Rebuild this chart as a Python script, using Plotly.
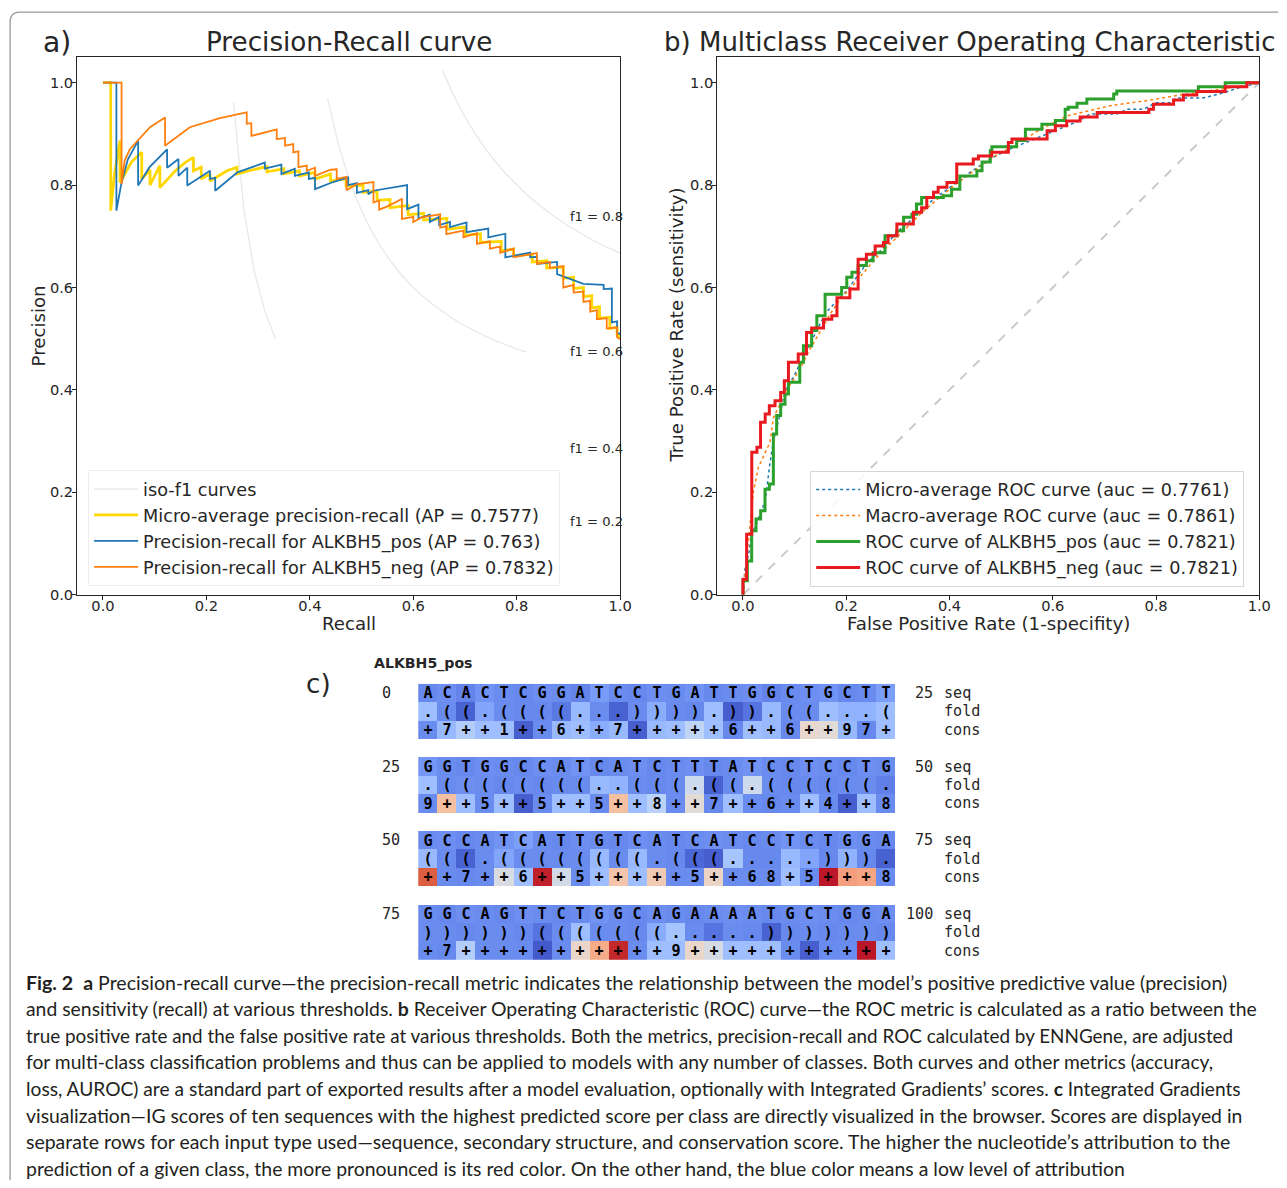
import numpy as np
import plotly.graph_objects as go

# The captured page is resized to 1287x1188; design in target pixels and convert.
SX, SY = 0.9905, 0.9922
FS = 1 / 0.991
M = 8                                  # default body margin of the page
W, H = 1284, 1181
def px(x): return (x / SX - M) / W
def py(y): return 1 - (y / SY - M) / H
def fs(s): return s * FS

# ---------------- Panel a : precision-recall ----------------
micro_recall = [0.000,0.015,0.015,0.022,0.033,0.033,0.055,0.075,0.075,0.091,0.091,0.110,0.110,0.140,0.160,0.175,0.175,0.190,0.190,0.207,0.207,0.240,0.259,0.259,0.290,0.317,0.317,0.350,0.350,0.380,0.380,0.410,0.410,0.440,0.440,0.470,0.470,0.503,0.503,0.530,0.530,0.555,0.555,0.590,0.590,0.620,0.620,0.665,0.665,0.700,0.700,0.730,0.730,0.770,0.770,0.794,0.794,0.830,0.830,0.858,0.858,0.890,0.890,0.910,0.910,0.929,0.929,0.945,0.945,0.960,0.960,0.980,0.980,0.994,0.994,1.000]
micro_precision = [1.000,1.000,0.750,0.820,0.887,0.805,0.845,0.864,0.812,0.830,0.800,0.838,0.795,0.828,0.845,0.854,0.828,0.835,0.812,0.822,0.808,0.828,0.835,0.822,0.830,0.836,0.826,0.832,0.822,0.828,0.818,0.825,0.812,0.822,0.808,0.812,0.798,0.800,0.786,0.788,0.770,0.772,0.756,0.760,0.742,0.745,0.732,0.735,0.714,0.718,0.702,0.705,0.688,0.690,0.672,0.675,0.662,0.665,0.650,0.652,0.638,0.640,0.618,0.620,0.598,0.600,0.582,0.584,0.560,0.562,0.540,0.542,0.520,0.522,0.508,0.503]

pos_recall = [0.000,0.026,0.026,0.035,0.048,0.068,0.068,0.090,0.124,0.124,0.146,0.146,0.163,0.163,0.207,0.207,0.217,0.217,0.260,0.313,0.313,0.345,0.345,0.371,0.371,0.398,0.398,0.410,0.410,0.445,0.474,0.474,0.491,0.491,0.513,0.513,0.523,0.588,0.588,0.610,0.610,0.632,0.632,0.650,0.650,0.671,0.671,0.703,0.703,0.745,0.745,0.778,0.778,0.826,0.826,0.839,0.839,0.878,0.878,0.916,0.929,0.968,0.968,0.984,0.984,0.994,0.994,1.000]
pos_precision = [1.000,1.000,0.750,0.800,0.850,0.887,0.799,0.835,0.870,0.834,0.851,0.818,0.834,0.799,0.828,0.812,0.814,0.789,0.825,0.844,0.832,0.840,0.822,0.832,0.818,0.825,0.812,0.814,0.792,0.806,0.815,0.800,0.804,0.785,0.790,0.782,0.789,0.800,0.753,0.762,0.735,0.742,0.728,0.738,0.722,0.728,0.718,0.727,0.708,0.715,0.698,0.705,0.659,0.668,0.659,0.660,0.646,0.650,0.626,0.612,0.607,0.605,0.597,0.598,0.532,0.534,0.512,0.509]

neg_recall = [0.000,0.036,0.036,0.042,0.052,0.068,0.091,0.120,0.120,0.168,0.226,0.278,0.278,0.287,0.287,0.336,0.336,0.352,0.352,0.368,0.368,0.378,0.378,0.394,0.394,0.410,0.410,0.440,0.452,0.452,0.471,0.471,0.491,0.500,0.523,0.523,0.534,0.534,0.549,0.578,0.578,0.600,0.600,0.616,0.652,0.652,0.664,0.664,0.697,0.697,0.723,0.723,0.748,0.748,0.768,0.768,0.794,0.794,0.839,0.839,0.864,0.864,0.890,0.890,0.910,0.910,0.929,0.929,0.942,0.942,0.955,0.955,0.974,0.974,0.994,0.994,1.000]
neg_precision = [1.000,1.000,0.802,0.848,0.870,0.887,0.913,0.932,0.877,0.913,0.931,0.942,0.920,0.921,0.896,0.909,0.890,0.892,0.877,0.880,0.864,0.866,0.835,0.838,0.828,0.834,0.818,0.830,0.831,0.812,0.816,0.790,0.802,0.803,0.806,0.766,0.770,0.752,0.758,0.773,0.734,0.738,0.728,0.737,0.743,0.717,0.720,0.704,0.711,0.698,0.706,0.685,0.690,0.676,0.680,0.668,0.676,0.659,0.667,0.646,0.650,0.638,0.642,0.600,0.605,0.590,0.592,0.572,0.574,0.553,0.556,0.538,0.540,0.520,0.522,0.503,0.499]

pr_names = ["Micro-average precision-recall (AP = 0.7577)",
            "Precision-recall for ALKBH5_pos (AP = 0.763)",
            "Precision-recall for ALKBH5_neg (AP = 0.7832)"]
f_scores = [0.2, 0.4, 0.6, 0.8]

# ---------------- Panel b : ROC ----------------
micro_fpr = [0.0,0.004,0.011,0.017,0.023,0.033,0.043,0.052,0.059,0.072,0.081,0.097,0.12,0.14,0.16,0.18,0.20,0.22,0.24,0.27,0.30,0.33,0.36,0.40,0.44,0.48,0.52,0.56,0.60,0.65,0.672,0.724,0.743,0.775,0.80,0.827,0.84,0.89,0.93,0.96,1.0]
micro_tpr = [0.0,0.053,0.079,0.118,0.131,0.157,0.183,0.255,0.301,0.353,0.398,0.424,0.47,0.51,0.55,0.572,0.592,0.62,0.648,0.675,0.71,0.735,0.765,0.795,0.825,0.852,0.872,0.888,0.905,0.925,0.939,0.939,0.948,0.948,0.961,0.961,0.97,0.97,0.98,0.99,1.0]
macro_fpr = [0.0,0.005,0.013,0.020,0.030,0.039,0.052,0.059,0.075,0.088,0.11,0.13,0.15,0.17,0.19,0.21,0.23,0.26,0.29,0.32,0.35,0.38,0.41,0.45,0.49,0.53,0.57,0.627,0.711,0.789,0.853,0.93,1.0]
macro_tpr = [0.0,0.05,0.131,0.200,0.249,0.268,0.297,0.346,0.379,0.405,0.44,0.48,0.515,0.55,0.58,0.60,0.625,0.66,0.69,0.72,0.75,0.775,0.80,0.83,0.858,0.88,0.905,0.935,0.955,0.966,0.977,0.988,1.0]
pos_fpr = [0,0.0084,0.0168,0.0252,0.0342,0.0426,0.051,0.0588,0.0652,0.073,0.0814,0.088,0.110,0.117,0.133,0.143,0.159,0.191,0.201,0.211,0.223,0.239,0.252,0.275,0.298,0.311,0.327,0.336,0.346,0.388,0.404,0.420,0.453,0.463,0.479,0.482,0.530,0.547,0.579,0.605,0.624,0.630,0.647,0.666,0.718,0.724,0.882,0.934,1.0]
pos_tpr = [0,0.027,0.066,0.125,0.148,0.164,0.206,0.216,0.314,0.350,0.372,0.392,0.415,0.454,0.486,0.516,0.545,0.587,0.600,0.620,0.630,0.643,0.652,0.668,0.701,0.711,0.737,0.743,0.763,0.776,0.779,0.792,0.818,0.828,0.845,0.867,0.875,0.887,0.909,0.919,0.926,0.948,0.952,0.960,0.968,0.978,0.984,0.992,1.0]
neg_fpr = [0,0.007,0.017,0.027,0.034,0.043,0.051,0.062,0.073,0.080,0.088,0.107,0.123,0.133,0.156,0.172,0.182,0.207,0.223,0.239,0.256,0.272,0.281,0.298,0.330,0.346,0.356,0.369,0.378,0.395,0.414,0.446,0.456,0.482,0.514,0.521,0.589,0.605,0.627,0.653,0.686,0.786,0.795,0.834,0.853,0.879,0.934,0.976,1.0]
neg_tpr = [0,0.03,0.118,0.278,0.288,0.337,0.353,0.369,0.379,0.395,0.418,0.454,0.470,0.512,0.521,0.538,0.545,0.580,0.597,0.655,0.665,0.681,0.688,0.701,0.724,0.747,0.756,0.776,0.786,0.796,0.805,0.841,0.851,0.857,0.864,0.883,0.890,0.906,0.916,0.925,0.933,0.942,0.948,0.958,0.966,0.976,0.983,0.992,1.0]
roc_names = ["Micro-average ROC curve (auc = 0.7761)",
             "Macro-average ROC curve (auc = 0.7861)",
             "ROC curve of ALKBH5_pos (auc = 0.7821)",
             "ROC curve of ALKBH5_neg (auc = 0.7821)"]

# ---------------- Panel c : Integrated gradients ----------------
block_starts = [0, 25, 50, 75]
seq_strings = ["ACACTCGGATCCTGATTGGCTGCTT", "GGTGGCCATCATCTTTATCCTCCTG",
               "GCCATCATTGTCATCATCCTCTGGA", "GGCAGTTCTGGCAGAAAATGCTGGA"]
fold_strings = [".((.((((...)))).)).((...(", ".((((((((..(((.((.((((((.",
                "(((.((((((((.(((.....))).", "))))))(((((((.....)))))))"]
cons_strings = ["+7++1++6++7+++++6++6++97+", "9++5++5++5++8++7++6++4++8",
                "++7++6++5+++++5++68+5+++8", "+7+++++++++++9+++++++++++"]
seq_scores = [
    [0.14,0.16,0.13,0.17,0.15,0.14,0.16,0.15,0.13,0.19,0.15,0.14,0.16,0.15,0.17,0.14,0.15,0.16,0.13,0.15,0.16,0.17,0.14,0.15,0.20],
    [0.18,0.15,0.14,0.16,0.15,0.14,0.16,0.15,0.17,0.14,0.15,0.16,0.14,0.15,0.16,0.14,0.15,0.17,0.15,0.14,0.16,0.15,0.14,0.16,0.15],
    [0.15,0.16,0.14,0.15,0.17,0.20,0.15,0.14,0.16,0.15,0.14,0.16,0.15,0.14,0.15,0.16,0.15,0.14,0.15,0.17,0.15,0.14,0.16,0.15,0.14],
    [0.15,0.14,0.16,0.15,0.14,0.16,0.15,0.14,0.15,0.17,0.15,0.14,0.16,0.15,0.14,0.15,0.16,0.15,0.14,0.15,0.16,0.15,0.14,0.15,0.16]]
fold_scores = [
    [0.30,0.15,0.05,0.22,0.15,0.14,0.14,0.10,0.28,0.15,0.05,0.15,0.24,0.15,0.14,0.30,0.04,0.09,0.28,0.15,0.15,0.30,0.26,0.26,0.30],
    [0.30,0.15,0.16,0.15,0.14,0.15,0.14,0.15,0.15,0.28,0.26,0.15,0.14,0.15,0.44,0.05,0.15,0.44,0.15,0.14,0.15,0.14,0.15,0.15,0.12],
    [0.28,0.15,0.05,0.15,0.22,0.15,0.15,0.15,0.15,0.28,0.15,0.28,0.15,0.14,0.06,0.04,0.32,0.14,0.14,0.28,0.22,0.14,0.26,0.14,0.05],
    [0.15,0.15,0.14,0.15,0.15,0.14,0.09,0.15,0.30,0.15,0.15,0.14,0.24,0.32,0.15,0.09,0.15,0.14,0.05,0.14,0.15,0.14,0.15,0.15,0.14]]
cons_scores = [
    [0.15,0.28,0.36,0.30,0.30,0.04,0.15,0.28,0.30,0.24,0.28,0.04,0.28,0.30,0.40,0.30,0.14,0.30,0.28,0.14,0.54,0.52,0.28,0.14,0.30],
    [0.15,0.64,0.30,0.15,0.30,0.04,0.15,0.30,0.30,0.15,0.64,0.30,0.38,0.15,0.52,0.14,0.30,0.15,0.14,0.15,0.30,0.15,0.04,0.30,0.15],
    [0.88,0.15,0.14,0.15,0.48,0.30,0.97,0.46,0.15,0.30,0.62,0.30,0.60,0.15,0.15,0.56,0.15,0.15,0.15,0.30,0.15,0.98,0.74,0.72,0.15],
    [0.15,0.14,0.36,0.15,0.15,0.15,0.03,0.15,0.55,0.70,0.96,0.15,0.30,0.30,0.55,0.47,0.30,0.30,0.30,0.15,0.04,0.15,0.15,0.98,0.30]]

caption_lines = [
    "<b>Fig. 2</b>  <b>a</b> Precision-recall curve\u2014the precision-recall metric indicates the relationship between the model\u2019s positive predictive value (precision)",
    "and sensitivity (recall) at various thresholds. <b>b</b> Receiver Operating Characteristic (ROC) curve\u2014the ROC metric is calculated as a ratio between the",
    "true positive rate and the false positive rate at various thresholds. Both the metrics, precision-recall and ROC calculated by ENNGene, are adjusted",
    "for multi-class classification problems and thus can be applied to models with any number of classes. Both curves and other metrics (accuracy,",
    "loss, AUROC) are a standard part of exported results after a model evaluation, optionally with Integrated Gradients\u2019 scores. <b>c</b> Integrated Gradients",
    "visualization\u2014IG scores of ten sequences with the highest predicted score per class are directly visualized in the browser. Scores are displayed in",
    "separate rows for each input type used\u2014sequence, secondary structure, and conservation score. The higher the nucleotide\u2019s attribution to the",
    "prediction of a given class, the more pronounced is its red color. On the other hand, the blue color means a low level of attribution",
]
caption_sizes = [19.4, 19.2, 18.7, 19.05, 19.0, 19.2, 19.3, 19.25]

# ======================================================================
fig = go.Figure()
FONT = "DejaVu Sans"
TXT = "#262626"

# iso-f1 curves
xs = np.linspace(0.01, 1, 50)
for i, f in enumerate(f_scores):
    ys = f * xs / (2 * xs - f)
    keep = (ys >= 0.47) & (ys <= 1.06)
    fig.add_trace(go.Scatter(x=xs[keep], y=ys[keep], mode="lines",
                             line=dict(color="rgba(128,128,128,0.18)", width=1.3),
                             name="iso-f1 curves", showlegend=(i == 0),
                             legend="legend", xaxis="x", yaxis="y", hoverinfo="skip"))

pr_data = [(micro_recall, micro_precision, "gold", 2.8),
           (pos_recall, pos_precision, "#1f77b4", 1.8),
           (neg_recall, neg_precision, "#ff7f0e", 1.8)]
for (r, p, c, w), nm in zip(pr_data, pr_names):
    fig.add_trace(go.Scatter(x=r, y=p, mode="lines", line=dict(color=c, width=w),
                             name=nm, legend="legend", xaxis="x", yaxis="y"))

# ROC
fig.add_trace(go.Scatter(x=[0, 1], y=[0, 1], mode="lines",
                         line=dict(color="rgba(150,150,150,0.5)", width=2, dash="dash"),
                         showlegend=False, xaxis="x2", yaxis="y2"))
fig.add_trace(go.Scatter(x=micro_fpr, y=micro_tpr, mode="lines", name=roc_names[0],
                         line=dict(color="#1f77b4", width=1.5, dash="dot"),
                         legend="legend2", xaxis="x2", yaxis="y2"))
fig.add_trace(go.Scatter(x=macro_fpr, y=macro_tpr, mode="lines", name=roc_names[1],
                         line=dict(color="#ff7f0e", width=1.5, dash="dot"),
                         legend="legend2", xaxis="x2", yaxis="y2"))
fig.add_trace(go.Scatter(x=pos_fpr, y=pos_tpr, mode="lines", name=roc_names[2],
                         line=dict(color="#2ca02c", width=3, shape="vh"),
                         legend="legend2", xaxis="x2", yaxis="y2"))
fig.add_trace(go.Scatter(x=neg_fpr, y=neg_tpr, mode="lines", name=roc_names[3],
                         line=dict(color="#e8191f", width=3, shape="vh"),
                         legend="legend2", xaxis="x2", yaxis="y2"))

# Heatmap
Z, T = [], []
nan_row = [None] * 25
for b in range(4):
    for s, sc in ((seq_strings[b], seq_scores[b]), (fold_strings[b], fold_scores[b]),
                  (cons_strings[b], cons_scores[b])):
        Z.append(sc)
        T.append(list(s))
    if b < 3:
        Z.append(nan_row)
        T.append([""] * 25)

coolwarm = [[0.0, "rgb(59,76,192)"], [0.0625, "rgb(77,104,215)"], [0.125, "rgb(98,130,234)"],
            [0.1875, "rgb(119,154,247)"], [0.25, "rgb(141,176,254)"], [0.3125, "rgb(163,194,255)"],
            [0.375, "rgb(184,208,249)"], [0.4375, "rgb(204,217,238)"], [0.5, "rgb(221,221,221)"],
            [0.5625, "rgb(236,211,197)"], [0.625, "rgb(245,196,169)"], [0.6875, "rgb(247,177,139)"],
            [0.75, "rgb(244,154,123)"], [0.8125, "rgb(236,125,85)"], [0.875, "rgb(222,96,64)"],
            [0.9375, "rgb(203,62,46)"], [1.0, "rgb(180,4,38)"]]
fig.add_trace(go.Heatmap(z=Z, text=T, texttemplate="%{text}",
                         x=list(range(25)), y=list(range(15)),
                         textfont=dict(family="DejaVu Sans Mono", size=fs(15), color="black", weight="bold"),
                         colorscale=coolwarm, zmin=0, zmax=1, showscale=False,
                         xaxis="x3", yaxis="y3", hoverinfo="skip"))

ax_common = dict(showline=True, linecolor=TXT, linewidth=1, mirror=True, ticks="outside",
                 ticklen=4, tickcolor=TXT, tickfont=dict(family=FONT, size=fs(14.5), color=TXT),
                 showgrid=False, zeroline=False, tickvals=[0, 0.2, 0.4, 0.6, 0.8, 1.0],
                 tickformat=".1f", fixedrange=True)
xa = dict(ax_common, ticklabelstandoff=-6)
ya = dict(ax_common, ticklabelstandoff=-4)

fig.update_layout(
    width=W, height=H, autosize=False, margin=dict(l=0, r=0, t=0, b=0),
    paper_bgcolor="white", plot_bgcolor="white",
    xaxis=dict(domain=[px(77), px(620)], range=[-0.05, 1.0], anchor="y", **xa),
    yaxis=dict(domain=[py(594), py(57)], range=[0, 1.05], anchor="x", **ya),
    xaxis2=dict(domain=[px(717), px(1259)], range=[-0.05, 1.0], anchor="y2", **xa),
    yaxis2=dict(domain=[py(594), py(57)], range=[0, 1.05], anchor="x2", **ya),
    xaxis3=dict(domain=[px(418), px(895)], range=[-0.5, 24.5], anchor="y3", visible=False),
    yaxis3=dict(domain=[py(959), py(683)], range=[14.5, -0.5], anchor="x3", visible=False),
    legend=dict(x=px(88), y=py(469.5), xanchor="left", yanchor="top",
                font=dict(family=FONT, size=fs(17.5), color=TXT), itemwidth=44,
                bgcolor="rgba(255,255,255,0.85)", bordercolor="#ededed", borderwidth=1,
                tracegroupgap=0),
    legend2=dict(x=px(810), y=py(470), xanchor="left", yanchor="top",
                 font=dict(family=FONT, size=fs(17.5), color=TXT), itemwidth=44,
                 bgcolor="rgba(255,255,255,0.85)", bordercolor="#d6d6d6", borderwidth=1,
                 tracegroupgap=0),
    showlegend=True,
)

ann = []
def A(text, x, y, size, xanchor="center", family=FONT, color=TXT, angle=0, yanchor="middle"):
    ann.append(dict(text=text, x=px(x), y=py(y), xref="paper", yref="paper", showarrow=False,
                    xanchor=xanchor, yanchor=yanchor, textangle=angle,
                    font=dict(family=family, size=fs(size), color=color)))

A("a)", 57, 42, 28)
A("Precision-Recall curve", 349, 42, 26)
A("b) Multiclass Receiver Operating Characteristic", 662, 42, 25.8, xanchor="left")
A("Recall", 349, 623, 18)
A("Precision", 38, 326, 18, angle=-90)
A("False Positive Rate (1-specifity)", 988, 623, 18)
A("True Positive Rate (sensitivity)", 676, 325, 18, angle=-90)
A("c)", 318, 683, 26)
A("<b>ALKBH5_pos</b>", 372, 663, 14, xanchor="left")

# iso-f1 labels
x45 = xs[45]
for f in f_scores:
    yl = f * x45 / (2 * x45 - f) + 0.02
    ann.append(dict(text=f"f1 = {f:.1f}", x=0.9, y=yl, xref="x", yref="y", showarrow=False,
                    xanchor="left", yanchor="middle", yshift=5,
                    font=dict(family=FONT, size=fs(13), color=TXT)))

# heatmap row labels
MONO = "DejaVu Sans Mono"
for b, start in enumerate(block_starts):
    r0 = 4 * b
    ann.append(dict(text=str(start), x=px(380), y=r0, xref="paper", yref="y3", showarrow=False,
                    xanchor="left", yanchor="middle", font=dict(family=MONO, size=fs(15), color=TXT)))
    ann.append(dict(text=str(start + 25), x=px(935), y=r0, xref="paper", yref="y3", showarrow=False,
                    xanchor="right", yanchor="middle", font=dict(family=MONO, size=fs(15), color=TXT)))
    for k, lab in enumerate(["seq", "fold", "cons"]):
        ann.append(dict(text=lab, x=px(942), y=r0 + k, xref="paper", yref="y3", showarrow=False,
                        xanchor="left", yanchor="middle", font=dict(family=MONO, size=fs(15), color=TXT)))

# caption
for i, line in enumerate(caption_lines):
    A(line, 24, 981 + i * 26.6, caption_sizes[i], xanchor="left", family="Lato", color="#231f20")

fig.update_layout(annotations=ann)

# figure frame (rounded corner), kept inside the figure
fig.add_shape(type="path", xref="paper", yref="paper",
              path=f"M {px(10)},{py(1179)} L {px(10)},{py(22)} Q {px(10)},{py(12)} {px(20)},{py(12)} L {px(1278)},{py(12)}",
              line=dict(color="#9a9a9a", width=1.3))

fig.write_html("out.html", config={"displayModeBar": False})
